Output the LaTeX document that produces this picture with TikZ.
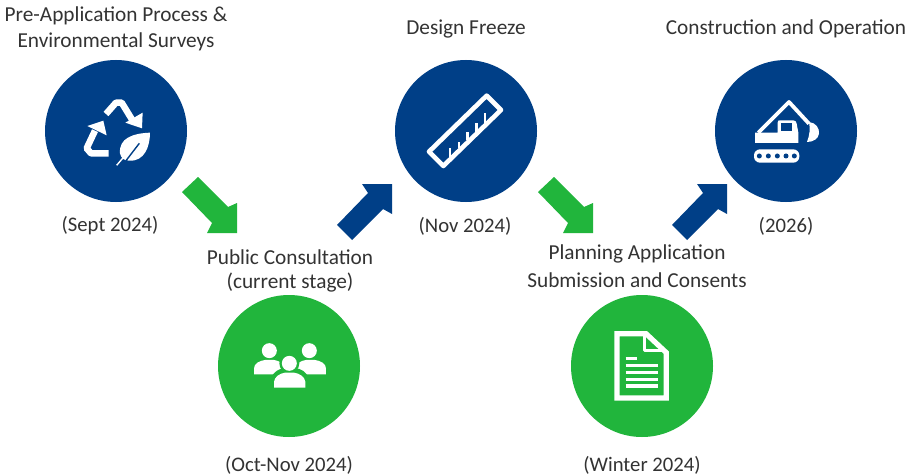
\documentclass[tikz,border=0pt]{standalone}
\usepackage{fontspec}
\setmainfont{Carlito}
\definecolor{navy}{HTML}{003F87}
\definecolor{leaf}{HTML}{21B53C}
\definecolor{ink}{HTML}{333333}
\tikzset{
  disc/.style={circle,minimum size=142pt,inner sep=0pt,draw=none},
  label/.style={font=\fontsize{21.3pt}{24pt}\selectfont,text=ink,inner sep=0pt,anchor=center,yshift=-1pt},
  datelabel/.style={font=\fontsize{20.7pt}{24pt}\selectfont,text=ink,inner sep=0pt,anchor=center,yshift=-1pt},
  zoomed/.style={x=0.3333pt,y=-0.3333pt},
  iconline/.style={draw=white,line width=#1,line join=round},
  downarrow/.pic={\fill[leaf] (-55,-41)--(-39,-56)--(-9,-26)--(0,-30)--(0,0)--(-30,0)--(-25,-10)--cycle;},
  uparrow/.pic={\fill[navy] (-55,41)--(-40,56)--(-9,25)--(0,30)--(0,0)--(-30,0)--(-24,9)--cycle;}
}
\begin{document}
\begin{tikzpicture}[x=1pt,y=-1pt]
\useasboundingbox (0,0) rectangle (913,476);
\fill[white] (0,0) rectangle (913,476);
% stages
\node[disc,fill=navy] (survey) at (116,131) {};
\node[disc,fill=leaf] (consult) at (289,366) {};
\node[disc,fill=navy] (freeze) at (466,131) {};
\node[disc,fill=leaf] (planning) at (642,366) {};
\node[disc,fill=navy] (build) at (786,131) {};
% block arrows between stages
\coordinate (tipa) at (237,233);
\coordinate (tipb) at (392,184);
\coordinate (tipc) at (593,233);
\coordinate (tipd) at (727,184);
\path (tipa) pic {downarrow};
\path (tipb) pic {uparrow};
\path (tipc) pic {downarrow};
\path (tipd) pic {uparrow};
% recycling icon
\begin{scope}[shift={(76,90)},zoomed]
  \draw[iconline=6.5pt] (90,72)--(120,38)--(137,38)--(172,95);
  \fill[white] (148,98)--(198,115)--(200,68)--cycle;
  \draw[iconline=6.5pt] (98,190)--(45,190)--(32,175)--(57,122);
  \fill[white] (34,108)--(82,92)--(92,136)--cycle;
  \fill[white] (222,128) .. controls (170,130) and (128,145) .. (132,190)
     .. controls (135,205) and (145,212) .. (160,212)
     .. controls (205,215) and (222,170) .. (222,128)--cycle;
  \draw[navy,line width=1.4pt] (150,212)--(190,160);
  \draw[white,line width=1.4pt] (122,226)--(150,193);
\end{scope}
% ruler icon
\begin{scope}[shift={(425,90)},zoomed]
  \draw[iconline=4.6pt] (185,17)--(228,60)--(55,228)--(12,185)--cycle;
  \draw[white,line width=2.6pt]
    (75,200)--(75,175) (102,175)--(102,155) (128,150)--(128,125)
    (155,125)--(155,100) (180,100)--(180,70);
\end{scope}
% excavator icon
\begin{scope}[shift={(745,92)},zoomed]
  \draw[iconline=3.8pt] (40,122)--(132,30)--(192,95);
  \fill[white] (30,153)--(30,122)--(98,122)--(98,92) .. controls (98,86) and (100,85) .. (105,85)
     --(145,85) .. controls (152,85) and (154,90) .. (155,95)--(160,122)--(160,153)--cycle;
  \fill[navy] (108,92) rectangle (142,118);
  \fill[white] (192,90) .. controls (212,92) and (224,108) .. (222,125)
     .. controls (220,140) and (205,150) .. (186,150)
     .. controls (194,130) and (196,110) .. (192,90)--cycle;
  \fill[white,rounded corners=6pt] (27,172) rectangle (163,212);
  \foreach \hx in {43,70,97,123,148} \fill[navy] (\hx,192) circle (2.5pt);
\end{scope}
% people icon
\begin{scope}[shift={(250,335)},zoomed]
  \fill[white] (58,47) circle (7.5pt) (178,47) circle (7.5pt);
  \fill[white] (12,118)--(12,100) .. controls (12,85) and (30,77) .. (45,75)--(72,75)
     .. controls (85,77) and (95,82) .. (100,92)--(100,118)--cycle;
  \fill[white] (228,118)--(228,100) .. controls (228,85) and (210,77) .. (195,75)--(168,75)
     .. controls (155,77) and (145,82) .. (140,92)--(140,118)--cycle;
  \fill[leaf] (118,85) circle (10pt);
  \fill[leaf] (62,170)--(62,130) .. controls (70,110) and (90,100) .. (100,100)--(138,100)
     .. controls (150,100) and (170,110) .. (176,130)--(176,170)--cycle;
  \fill[white] (118,85) circle (7.5pt);
  \fill[white] (72,158)--(72,140) .. controls (74,125) and (90,115) .. (105,113)--(132,113)
     .. controls (148,115) and (164,125) .. (166,140)--(166,158)--cycle;
\end{scope}
% document icon
\begin{scope}[shift={(560,290)},zoomed]
  \draw[iconline=5.2pt,line join=miter] (171,131)--(258,131)--(319,188)--(319,324)--(171,324)--cycle;
  \draw[iconline=3.4pt] (253,133)--(253,181)--(310,181);
  \draw[white,line width=3.2pt] (197,205)--(230,205);
  \draw[white,line width=3.2pt] (197,226)--(295,226) (197,247)--(295,247) (197,268)--(295,268) (197,288)--(295,288);
\end{scope}
% labels
\node[label] (t1) at (116,15) {Pre-Application Process \&};
\node[label] (t2) at (116,41) {Environmental Surveys};
\node[label] (t3) at (466,28) {Design Freeze};
\node[label] (t4) at (786,28) {Construction and Operation};
\node[datelabel] (d1) at (110,225) {(Sept 2024)};
\node[datelabel] (d3) at (465,225) {(Nov 2024)};
\node[datelabel] (d5) at (786,225) {(2026)};
\node[label] (t5) at (290,256) {Public Consultation};
\node[label] (t6) at (290,282) {(current stage)};
\node[label] (t7) at (637,253) {Planning Application};
\node[label] (t8) at (637,279) {Submission and Consents};
\node[datelabel] (d2) at (289,464) {(Oct-Nov 2024)};
\node[datelabel] (d4) at (642,464) {(Winter 2024)};
\end{tikzpicture}
\end{document}
